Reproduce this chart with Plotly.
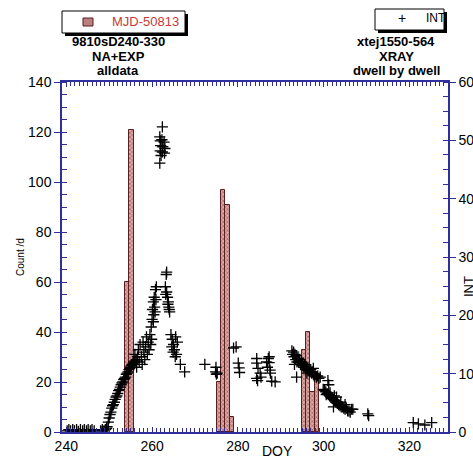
import plotly.graph_objects as go

# ---------------- data ----------------
# daily counts (MJD-50813 histogram), left axis
bar_doy = [254.2, 255.2, 275.6, 276.6, 277.6, 278.6, 295.4, 296.4, 297.4, 298.4]
bar_count = [60, 121, 20, 97, 91, 6, 33, 40, 16, 21]

# dwell-by-dwell intensity (INT), right axis
int_doy = [
    240.2, 240.6, 241.0, 241.5, 241.9, 242.4, 242.8, 243.3, 243.8, 244.2,
    244.7, 245.1, 245.6, 246.0, 246.5, 248.0, 248.4, 248.8, 249.1, 249.4,
    249.5, 249.8, 250.0, 250.2, 250.4, 250.6, 250.8, 251.0, 251.2, 251.4,
    251.6, 251.8, 252.0, 252.2, 252.4, 252.6, 252.8, 253.0, 253.2, 253.4,
    253.6, 253.8, 254.0, 254.2, 254.4, 254.6, 254.8, 255.0, 255.2, 255.4,
    255.6, 255.8, 256.0, 256.3, 256.6,
    256.0, 256.4, 256.8, 257.0, 257.2, 257.5, 257.7, 257.9, 258.1, 258.3,
    258.5, 258.7, 258.9, 259.1, 259.3, 259.5, 259.7, 259.9,
    259.8, 260.0, 260.1, 260.3, 260.4, 260.5, 260.6, 260.8, 260.9, 260.3,
    260.7, 261.0,
    262.4, 261.8, 261.9, 262.3, 262.8, 262.0, 262.5, 263.0, 261.9, 262.4,
    262.9, 262.1, 261.8,
    263.4, 263.3,
    263.1, 263.4, 263.2, 263.6, 263.8, 263.9, 264.0, 263.7, 264.1,
    264.4, 264.7, 265.0, 265.2, 265.5, 265.7, 265.9, 264.9, 265.4, 264.6,
    266.6, 267.6,
    272.3, 274.9, 274.8, 275.2, 275.0,
    279.0, 279.6, 280.1, 280.3, 280.4,
    284.4, 284.4, 284.7, 284.4, 284.6, 285.2, 285.4,
    286.7, 287.1, 287.3, 287.5, 287.6, 287.9, 288.7, 286.9, 287.3,
    292.6, 292.8, 293.0, 293.1, 293.3, 293.5, 293.6, 293.8, 294.0, 294.2,
    294.4, 294.6, 294.8, 295.0, 295.2, 295.4, 295.6, 295.8, 296.0, 296.2,
    296.4, 296.6, 296.8, 297.0, 297.2, 297.4, 297.6, 297.8, 298.0, 298.3,
    298.6, 298.9, 299.2, 293.7, 293.2, 297.6, 296.1,
    301.0, 301.2,
    299.9, 300.2, 300.5, 300.8, 301.1, 301.4, 301.7, 302.0, 302.3, 302.6,
    302.9, 303.2, 303.5, 303.8, 304.1, 304.4, 304.7, 305.0, 305.3, 305.6,
    305.9, 306.2, 306.5, 302.3, 303.0, 304.0, 305.0, 306.8, 300.6, 301.5,
    302.5,
    310.3, 310.5, 320.9, 322.1, 323.6, 325.2,
]
int_val = [
    2, 4, 2, 4, 2, 4, 1, 4, 2, 4,
    2, 4, 2, 4, 2, 2, 4, 2, 4, 6,
    9, 17, 24, 30, 34, 41, 45, 47, 51, 56,
    60, 62, 66, 71, 73, 77, 81, 84, 86, 90,
    92, 94, 99, 101, 103, 107, 109, 111, 114, 116,
    118, 120, 122, 124, 129,
    133, 111, 141, 120, 150, 129, 116, 154, 137, 124,
    146, 163, 133, 154, 141, 167, 150, 159,
    180, 193, 210, 223, 201, 231, 214, 244, 227, 189,
    206, 249,
    523, 506, 499, 501, 497, 491, 489, 486, 482, 480,
    478, 474, 461,
    274, 270,
    249, 240, 236, 231, 223, 214, 210, 219, 206,
    167, 159, 150, 141, 163, 133, 154, 137, 129, 146,
    116, 103,
    116, 111, 103, 101, 99,
    144, 146, 118, 110, 102,
    126, 118, 109, 92, 88, 101, 94,
    120, 126, 119, 106, 101, 87, 86, 111, 129,
    139, 133, 137, 129, 133, 124, 131, 120, 126, 120,
    124, 116, 120, 114, 118, 111, 116, 107, 111, 109,
    105, 107, 103, 107, 101, 103, 99, 96, 99, 94,
    96, 92, 94, 94, 116, 109, 101,
    88, 81,
    73, 71, 69, 66, 64, 62, 60, 58, 56, 54,
    51, 49, 47, 45, 43, 43, 41, 39, 41, 36,
    36, 34, 39, 43, 60, 51, 47, 39, 64, 67,
    62,
    31, 28, 16, 14, 12, 16,
]

x_ticks = [240, 260, 280, 300, 320]

# ---------------- layout geometry (pixels) ----------------
W, H = 473, 458
L, R, T, B = 62, 448, 82, 432
AX = "#2e2e9c"
FONT = "Liberation Sans, Arial, sans-serif"


def fx(x):
    return (x - L) / (R - L)


def fy(y):
    return (B - y) / (B - T)


fig = go.Figure()

fig.add_trace(go.Bar(
    x=bar_doy, y=bar_count, width=1.0, name="MJD-50813",
    marker=dict(
        color="#c99694",
        line=dict(color="#5a1c1c", width=1),
        pattern=dict(shape="x", fgcolor="#7a2a2a", bgcolor="#d9aaa8",
                     size=3, solidity=0.45),
    ),
    yaxis="y",
))

fig.add_trace(go.Scatter(
    x=int_doy, y=int_val, mode="markers", name="INT",
    marker=dict(symbol="cross-thin-open", size=8, color="black",
                line=dict(color="black", width=1.3)),
    yaxis="y2",
))

axis_common = dict(
    showline=True, linecolor=AX, linewidth=1.5, showgrid=False,
    zeroline=False, tickcolor=AX, tickwidth=1, automargin=False,
    tickfont=dict(family=FONT, size=14, color="black"),
)

fig.update_layout(
    width=W, height=H,
    margin=dict(l=L, r=W - R, t=T, b=H - B, pad=0, autoexpand=False),
    paper_bgcolor="white", plot_bgcolor="white",
    showlegend=False,
    bargap=0,
    xaxis=dict(
        range=[239, 329], tickvals=x_ticks, tick0=240, dtick=20,
        ticks="inside", ticklen=5, mirror="ticks",
        minor=dict(dtick=1, tick0=239, ticks="inside", ticklen=4,
                   tickcolor=AX, showgrid=False),
        **axis_common,
    ),
    yaxis=dict(
        range=[0, 140], tick0=0, dtick=20, ticks="outside", ticklen=6,
        minor=dict(dtick=5, ticks="inside", ticklen=5, tickcolor=AX,
                   showgrid=False),
        **axis_common,
    ),
    yaxis2=dict(
        overlaying="y", side="right", anchor="x",
        range=[0, 600], tick0=0, dtick=100, ticks="outside", ticklen=6,
        minor=dict(dtick=25, ticks="inside", ticklen=5, tickcolor=AX,
                   showgrid=False),
        **axis_common,
    ),
)

# ---------------- text ----------------
ann = []


def text(x, y, s, size=14, bold=False, color="black", xanchor="center",
         angle=0):
    ann.append(dict(
        x=fx(x), y=fy(y), xref="paper", yref="paper",
        text=f"<b>{s}</b>" if bold else s, showarrow=False,
        xanchor=xanchor, yanchor="middle", textangle=angle,
        font=dict(family=FONT, size=size, color=color),
    ))


for yy, s in zip([42, 56, 70], ["9810sD240-330", "NA+EXP", "alldata"]):
    text(118, yy, s, size=13, bold=True)
for yy, s in zip([42, 56, 70], ["xtej1550-564", "XRAY", "dwell by dwell"]):
    text(396, yy, s, size=13, bold=True)

text(277, 451, "DOY", size=14)
text(20, 257, "Count /d", size=10, angle=-90)
text(468, 287, "INT", size=13, angle=-90)

# legend boxes
shapes = []


def rect(x0, y0, x1, y1, fill, line="black", lw=1):
    shapes.append(dict(
        type="rect", xref="paper", yref="paper",
        x0=fx(x0), x1=fx(x1), y0=fy(y1), y1=fy(y0),
        fillcolor=fill, line=dict(color=line, width=lw), layer="above",
    ))


rect(65, 14, 188, 36, "black", lw=0)
rect(62, 11, 185, 33, "white")
rect(83, 18, 93, 26, "#b9807e", line="#5a1c1c")
text(110, 22, "MJD-50813", size=13, color="#c63a3a", xanchor="left")

rect(378, 12, 447, 33, "black", lw=0)
rect(375, 9, 444, 30, "white")
text(402, 18, "+", size=14)
text(424, 18, "INT", size=12, xanchor="left")

fig.update_layout(annotations=ann, shapes=shapes)

fig.write_html("out.html")
